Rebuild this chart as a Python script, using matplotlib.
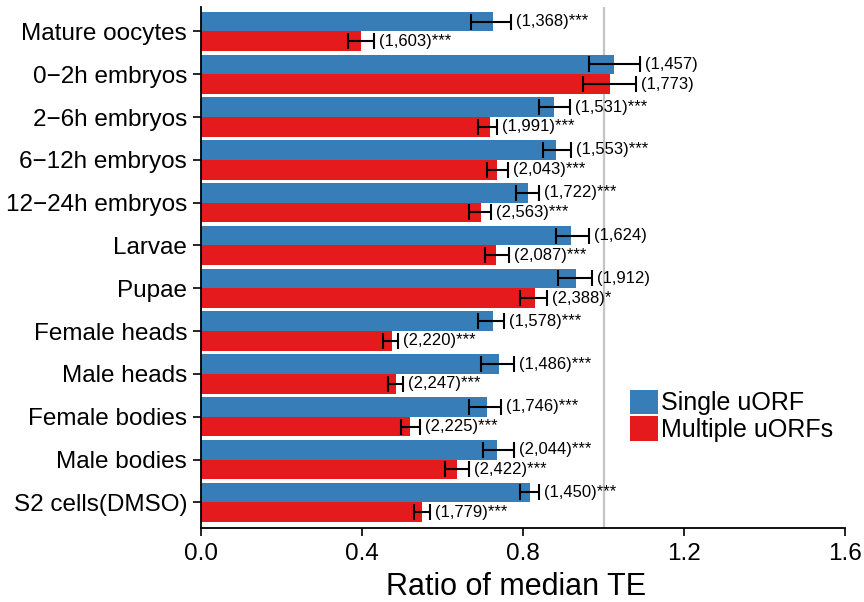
import matplotlib
matplotlib.use("Agg")
import matplotlib.pyplot as plt
import numpy as np
from matplotlib.patches import Patch

plt.rcParams["font.family"] = ["Liberation Sans", "DejaVu Sans"]

SAMPLES = [
    "Mature oocytes", "0\u22122h embryos", "2\u22126h embryos", "6\u221212h embryos",
    "12\u221224h embryos", "Larvae", "Pupae", "Female heads", "Male heads",
    "Female bodies", "Male bodies", "S2 cells(DMSO)",
]

# Single uORF
single_val = [0.725, 1.025, 0.877, 0.883, 0.812, 0.920, 0.932, 0.725, 0.740, 0.710, 0.735, 0.817]
single_lo = [0.670, 0.965, 0.840, 0.850, 0.782, 0.883, 0.887, 0.688, 0.695, 0.667, 0.700, 0.792]
single_hi = [0.770, 1.090, 0.917, 0.920, 0.840, 0.965, 0.972, 0.753, 0.777, 0.745, 0.778, 0.840]
single_lab = ["(1,368)***", "(1,457)", "(1,531)***", "(1,553)***", "(1,722)***", "(1,624)",
              "(1,912)", "(1,578)***", "(1,486)***", "(1,746)***", "(2,044)***", "(1,450)***"]

# Multiple uORFs
multi_val = [0.398, 1.015, 0.717, 0.735, 0.695, 0.732, 0.830, 0.475, 0.485, 0.520, 0.637, 0.550]
multi_lo = [0.365, 0.950, 0.687, 0.710, 0.667, 0.705, 0.793, 0.453, 0.465, 0.498, 0.605, 0.530]
multi_hi = [0.430, 1.080, 0.735, 0.762, 0.720, 0.765, 0.860, 0.490, 0.502, 0.545, 0.667, 0.570]
multi_lab = ["(1,603)***", "(1,773)", "(1,991)***", "(2,043)***", "(2,563)***", "(2,087)***",
             "(2,388)*", "(2,220)***", "(2,247)***", "(2,225)***", "(2,422)***", "(1,779)***"]

BLUE = "#377eb8"
RED = "#e41a1c"

fig = plt.figure(figsize=(8.64, 6.02), dpi=100)
ax = fig.add_axes([201 / 864, 1 - 528 / 602, (845 - 201) / 864, (528 - 7) / 602])

n = len(SAMPLES)
pos = np.arange(n)[::-1].astype(float)
h = 0.46

def draw(vals, lo, hi, labels, offset, color):
    y = pos + offset
    ax.barh(y, vals, height=h, color=color, zorder=2)
    v = np.array(vals)
    err = [v - np.array(lo), np.array(hi) - v]
    ax.errorbar(v, y, xerr=err, fmt="none", ecolor="black", elinewidth=1.5,
                capsize=5.5, capthick=1.5, zorder=3)
    for yy, x, t in zip(y, hi, labels):
        ax.text(x + 0.012, yy, t, ha="left", va="center", fontsize=12, zorder=4)

draw(single_val, single_lo, single_hi, single_lab, h / 2, BLUE)
draw(multi_val, multi_lo, multi_hi, multi_lab, -h / 2, RED)

ax.axvline(1.0, color="#c4c4c4", linewidth=1.6, zorder=1)

ax.set_xlim(0, 1.6)
ax.set_ylim(-0.6, n - 1 + 0.57)
ax.set_xticks([0.0, 0.4, 0.8, 1.2, 1.6])
ax.set_xticklabels(["0.0", "0.4", "0.8", "1.2", "1.6"], fontsize=17.5)
ax.set_yticks(pos)
ax.set_yticklabels(SAMPLES, fontsize=17.5)
ax.tick_params(axis="both", direction="out", length=6, width=1.2, color="black")
ax.tick_params(axis="x", pad=5)
ax.tick_params(axis="y", pad=4)
for s in ["top", "right"]:
    ax.spines[s].set_visible(False)
for s in ["left", "bottom"]:
    ax.spines[s].set_linewidth(1.3)
ax.set_xlabel("Ratio of median TE", fontsize=22, va="baseline")
ax.xaxis.set_label_coords(0.49, -0.128)

handles = [Patch(facecolor=BLUE, label="Single uORF"),
           Patch(facecolor=RED, label="Multiple uORFs")]
fig.legend(handles=handles, loc="upper left", bbox_to_anchor=(612 / 864, 1 - 372 / 602),
           frameon=False, fontsize=18, handlelength=1.12, handleheight=1.12,
           handletextpad=0.15, labelspacing=0.05, borderpad=0.2)

fig.savefig("out.png", dpi=100)
